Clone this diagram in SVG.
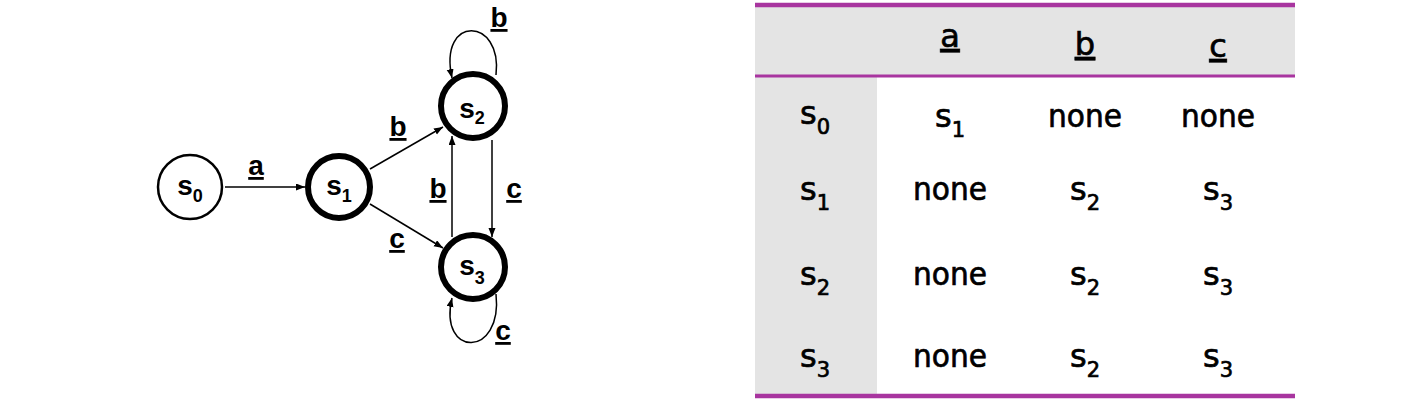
<svg xmlns="http://www.w3.org/2000/svg" width="1419" height="408" viewBox="0 0 1419 408">
<defs>
<style>
.st{fill:#fff;stroke:#000}
.thin{stroke-width:2.5}
.thick{stroke-width:6}
.nl{font-family:"Liberation Sans",Arial,sans-serif;font-weight:bold;font-size:28px;fill:#000}
.sub{font-size:18px}
.el{font-family:"Liberation Sans",Arial,sans-serif;font-weight:bold;font-size:28px;fill:#000;text-decoration:underline}
.edge{fill:none;stroke:#000;stroke-width:1.5}
.tt{font-family:"DejaVu Sans",sans-serif;font-size:32px;fill:#000;stroke:#000;stroke-width:0.7}
.ts{font-size:21px}
.hd{text-decoration:underline}
</style>
<marker id="arr" markerUnits="userSpaceOnUse" markerWidth="10" markerHeight="8" refX="9" refY="3.5" orient="auto">
<path d="M0,0 L9,3.5 L0,7 z" fill="#000"/>
</marker>
</defs>
<rect width="1419" height="408" fill="#fff"/>

<g id="connectors">
<line class="edge" x1="225" y1="187" x2="305" y2="187" marker-end="url(#arr)"/>
<line class="edge" x1="370" y1="169" x2="443" y2="127" marker-end="url(#arr)"/>
<line class="edge" x1="370" y1="204" x2="443" y2="248" marker-end="url(#arr)"/>
<line class="edge" x1="452" y1="237" x2="452" y2="136" marker-end="url(#arr)"/>
<line class="edge" x1="492" y1="140" x2="492" y2="237" marker-end="url(#arr)"/>
<path class="edge" d="M496,75 C503,17 438,14 452,78" marker-end="url(#arr)"/>
<path class="edge" d="M496,294 C503,358 438,358 452,298" marker-end="url(#arr)"/>
<text class="el" x="256" y="175" text-anchor="middle">a</text>
<text class="el" x="398" y="136" text-anchor="middle">b</text>
<text class="el" x="397" y="248" text-anchor="middle">c</text>
<text class="el" x="438" y="198" text-anchor="middle">b</text>
<text class="el" x="514" y="198" text-anchor="middle">c</text>
<text class="el" x="499" y="27" text-anchor="middle">b</text>
<text class="el" x="503" y="340" text-anchor="middle">c</text>
</g>

<g id="s0">
<circle class="st thin" cx="190" cy="187" r="32"/>
<text class="nl" x="190" y="195" text-anchor="middle">s<tspan class="sub" dy="7">0</tspan></text>
</g>
<g id="s1">
<circle class="st thick" cx="339" cy="187" r="31"/>
<text class="nl" x="339" y="195" text-anchor="middle">s<tspan class="sub" dy="7">1</tspan></text>
</g>
<g id="s2">
<circle class="st thick" cx="473" cy="106" r="32"/>
<text class="nl" x="472" y="118" text-anchor="middle">s<tspan class="sub" dy="6">2</tspan></text>
</g>
<g id="s3">
<circle class="st thick" cx="473" cy="267" r="32"/>
<text class="nl" x="472" y="275" text-anchor="middle">s<tspan class="sub" dy="9">3</tspan></text>
</g>

<g id="table">
<rect x="755" y="6" width="540" height="70" fill="#e4e4e4"/>
<rect x="755" y="76" width="122" height="320" fill="#e4e4e4"/>
<line x1="755" y1="5" x2="1295" y2="5" stroke="#a8359f" stroke-width="4.5"/>
<line x1="755" y1="76" x2="1295" y2="76" stroke="#a8359f" stroke-width="3"/>
<line x1="755" y1="396" x2="1295" y2="396" stroke="#a8359f" stroke-width="4.5"/>

<text class="tt hd" x="950" y="47" text-anchor="middle">a</text>
<text class="tt hd" x="1085" y="55" text-anchor="middle">b</text>
<text class="tt hd" x="1218" y="57" text-anchor="middle">c</text>

<text class="tt" x="815" y="124" text-anchor="middle">s<tspan class="ts" dy="10">0</tspan></text>
<text class="tt" x="950" y="127" text-anchor="middle">s<tspan class="ts" dy="10">1</tspan></text>
<text class="tt" x="1085" y="127" text-anchor="middle" textLength="74" lengthAdjust="spacingAndGlyphs">none</text>
<text class="tt" x="1218" y="127" text-anchor="middle" textLength="74" lengthAdjust="spacingAndGlyphs">none</text>

<text class="tt" x="815" y="200" text-anchor="middle">s<tspan class="ts" dy="10">1</tspan></text>
<text class="tt" x="950" y="200" text-anchor="middle" textLength="74" lengthAdjust="spacingAndGlyphs">none</text>
<text class="tt" x="1085" y="200" text-anchor="middle">s<tspan class="ts" dy="10">2</tspan></text>
<text class="tt" x="1218" y="200" text-anchor="middle">s<tspan class="ts" dy="10">3</tspan></text>

<text class="tt" x="815" y="285" text-anchor="middle">s<tspan class="ts" dy="10">2</tspan></text>
<text class="tt" x="950" y="285" text-anchor="middle" textLength="74" lengthAdjust="spacingAndGlyphs">none</text>
<text class="tt" x="1085" y="285" text-anchor="middle">s<tspan class="ts" dy="10">2</tspan></text>
<text class="tt" x="1218" y="285" text-anchor="middle">s<tspan class="ts" dy="10">3</tspan></text>

<text class="tt" x="815" y="367" text-anchor="middle">s<tspan class="ts" dy="10">3</tspan></text>
<text class="tt" x="950" y="367" text-anchor="middle" textLength="74" lengthAdjust="spacingAndGlyphs">none</text>
<text class="tt" x="1085" y="367" text-anchor="middle">s<tspan class="ts" dy="10">2</tspan></text>
<text class="tt" x="1218" y="367" text-anchor="middle">s<tspan class="ts" dy="10">3</tspan></text>
</g>
</svg>
